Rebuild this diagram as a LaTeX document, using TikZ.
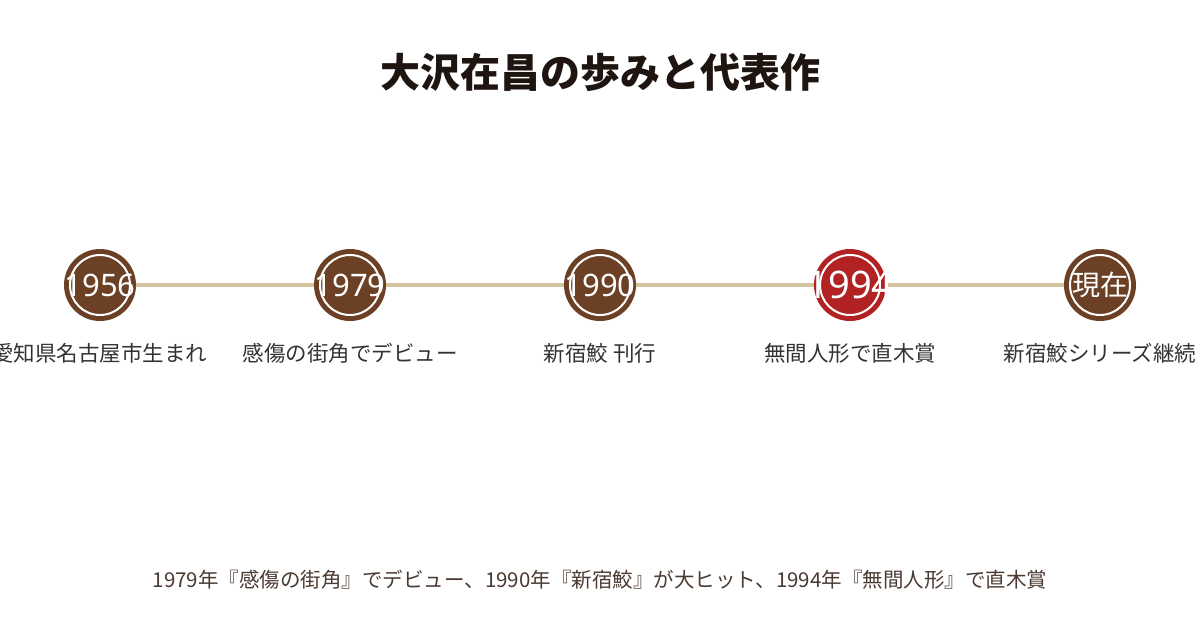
\documentclass[tikz,border=0pt]{standalone}
\usepackage{fontspec}
\setmainfont{Noto Sans CJK JP}
\newfontfamily\numfont{Noto Sans}
\definecolor{brownc}{HTML}{6B4024}
\definecolor{redc}{HTML}{B22222}
\definecolor{tanc}{HTML}{D4C49E}
\definecolor{titlec}{HTML}{1E1410}
\definecolor{labelc}{HTML}{333333}
\definecolor{footc}{HTML}{4A3A32}
\begin{document}
\begin{tikzpicture}[x=1pt,y=-1pt,
  dot/.style={circle,fill=brownc,minimum size=72pt,inner sep=0pt},
  hot/.style={dot,fill=redc},
  ring/.style={circle,draw=white,line width=2pt,minimum size=60pt,inner sep=0pt},
  year/.style={text=white,font=\numfont\fontsize{31}{33}\selectfont},
  bigyear/.style={text=white,font=\numfont\fontsize{38}{40}\selectfont},
  lbl/.style={text=labelc,font=\fontsize{21.5}{24}\selectfont},
  track/.style={draw=tanc,line width=4pt}]
\useasboundingbox (0,0) rectangle (1200,630);
\fill[white] (0,0) rectangle (1200,630);
\node[font=\fontsize{40}{44}\selectfont\bfseries,text=titlec] (title) at (600,72) {大沢在昌の歩みと代表作};
\coordinate (p1) at (100,285);
\coordinate (p2) at (350,285);
\coordinate (p3) at (600,285);
\coordinate (p4) at (850,285);
\coordinate (p5) at (1100,285);
\draw[track] (p1) -- (p5);
\node[dot] (c1) at (p1) {};
\node[dot] (c2) at (p2) {};
\node[dot] (c3) at (p3) {};
\node[hot] (c4) at (p4) {};
\node[dot] (c5) at (p5) {};
\foreach \i in {1,...,5} \node[ring] (r\i) at (p\i) {};
\node[year] (y1) at (p1) {1956};
\node[year] (y2) at (p2) {1979};
\node[year] (y3) at (p3) {1990};
\node[bigyear] (y4) at (p4) {1994};
\node[text=white,font=\fontsize{28}{30}\selectfont] (y5) at (p5) {現在};
\node[lbl] (l1) at (100,353) {愛知県名古屋市生まれ};
\node[lbl] (l2) at (350,353) {感傷の街角でデビュー};
\node[lbl] (l3) at (600,353) {新宿鮫 刊行};
\node[lbl] (l4) at (850,353) {無間人形で直木賞};
\node[lbl] (l5) at (1100,353) {新宿鮫シリーズ継続};
\node[text=footc,font=\fontsize{20.5}{22}\selectfont] (foot) at (600,580) {1979年『感傷の街角』でデビュー、1990年『新宿鮫』が大ヒット、1994年『無間人形』で直木賞};
\end{tikzpicture}
\end{document}
